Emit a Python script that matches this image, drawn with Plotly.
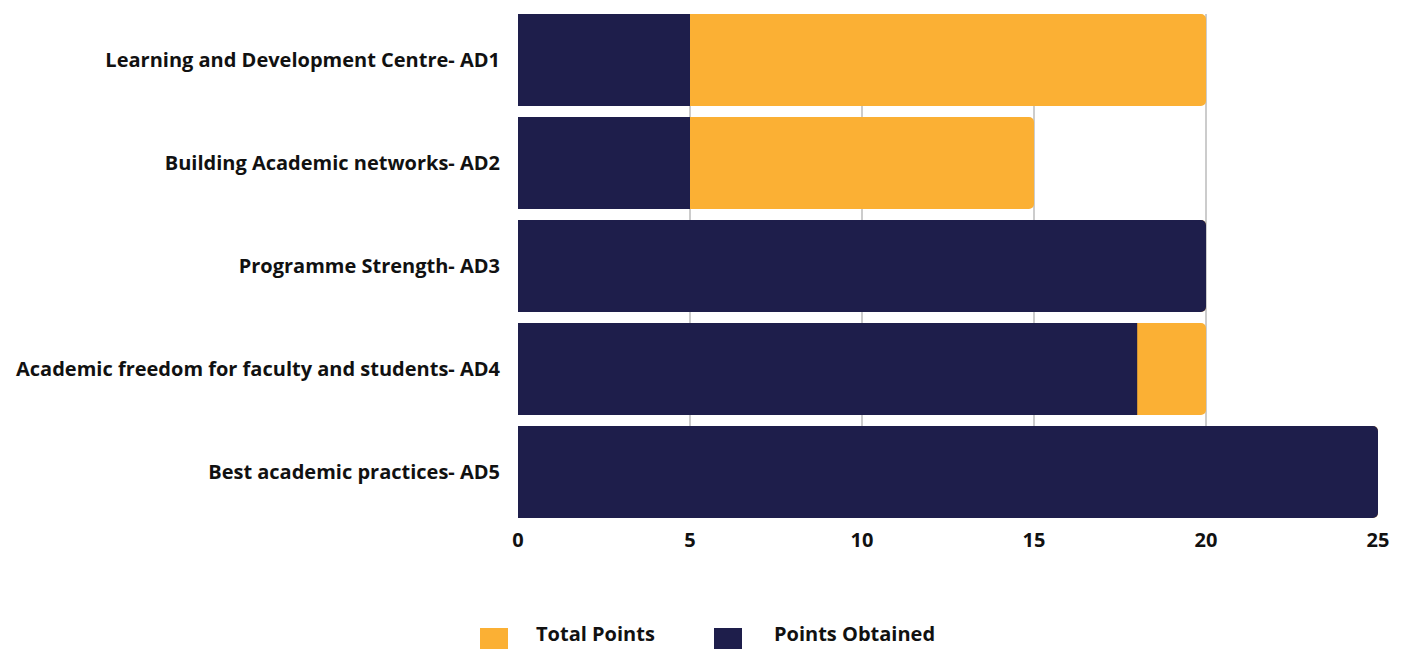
import plotly.graph_objects as go

categories = [
    "Learning and Development Centre- AD1",
    "Building Academic networks- AD2",
    "Programme Strength- AD3",
    "Academic freedom for faculty and students- AD4",
    "Best academic practices- AD5",
]
total_points = [20, 15, 20, 20, 25]
points_obtained = [5, 5, 20, 18, 25]
x_ticks = [0, 5, 10, 15, 20, 25]

ORANGE = "#FBB034"
NAVY = "#1E1E4B"
FONT = "'Open Sans', Lato, sans-serif"
BAR_W = 0.893

W, H = 1406, 649
ML, MR, MT, MB = 518, 28, 14, 131
PW, PH = W - ML - MR, H - MT - MB

fig = go.Figure()
fig.add_trace(go.Bar(
    y=categories, x=total_points, orientation="h", name="Total Points", width=BAR_W,
    marker=dict(color=ORANGE, line=dict(width=0)), showlegend=False,
))
fig.add_trace(go.Bar(
    y=categories, x=points_obtained, orientation="h", name="Points Obtained", width=BAR_W,
    marker=dict(color=NAVY, line=dict(width=0)), showlegend=False,
))


def px_x(p):
    return (p - ML) / PW


def px_y(p):
    return (H - MB - p) / PH


# custom legend: large square swatches with labels below the plot
legend_items = [("Total Points", ORANGE, 480, 534), ("Points Obtained", NAVY, 714, 772)]
for label, color, sx, tx in legend_items:
    fig.add_shape(type="rect", xref="paper", yref="paper",
                  x0=px_x(sx), x1=px_x(sx + 28), y0=px_y(656), y1=px_y(628),
                  fillcolor=color, line=dict(width=0), layer="above")
    fig.add_annotation(xref="paper", yref="paper", x=px_x(tx), y=px_y(633),
                       text=f"<b>{label}</b>", showarrow=False, xanchor="left", yanchor="middle",
                       font=dict(family=FONT, size=20, color="#111111"))

half = BAR_W / 2
fig.update_layout(
    width=W, height=H,
    margin=dict(l=ML, r=MR, t=MT, b=MB, autoexpand=False),
    barmode="overlay", barcornerradius=5,
    plot_bgcolor="white", paper_bgcolor="white",
    font=dict(family=FONT, size=20, color="#111111"),
    xaxis=dict(range=[0, 25], tickvals=x_ticks, ticktext=[f"<b>{v}</b>" for v in x_ticks],
               showgrid=True, gridcolor="#CCCCCC", gridwidth=1.5, zeroline=False,
               showline=False, ticks="", ticklabelstandoff=8, tickfont=dict(size=20)),
    yaxis=dict(range=[len(categories) - 1 + half, -half], tickvals=categories,
               ticktext=[f"<b>{c}</b>" for c in categories],
               showgrid=False, zeroline=False, ticks="", ticklabelstandoff=17,
               tickfont=dict(size=20)),
)

fig.write_html("out.html")
